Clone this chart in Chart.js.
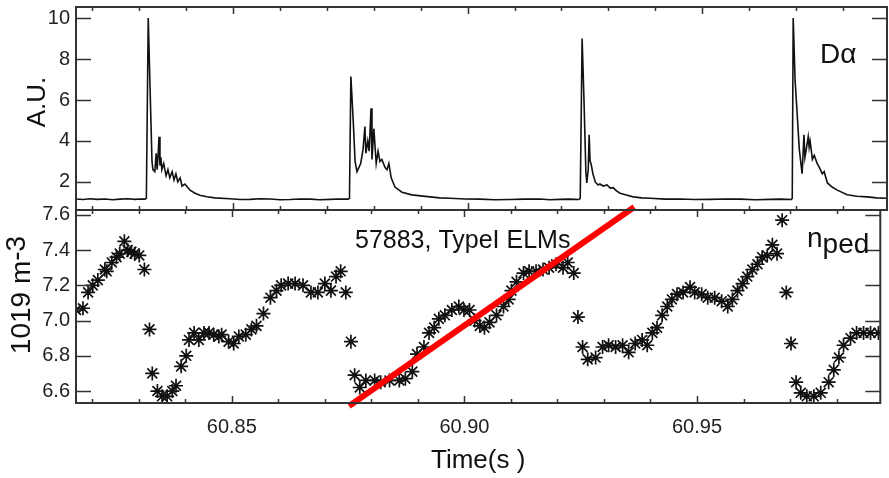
<!DOCTYPE html>
<html>
<head>
<meta charset="utf-8">
<script src="https://cdn.jsdelivr.net/npm/chart.js@4.4.0/dist/chart.umd.min.js"></script>
<style>
  html, body { margin: 0; padding: 0; background: #fff; }
  #wrap { position: relative; width: 889px; height: 478px; overflow: hidden; }
  #topCanvas { position: absolute; left: 0; top: 0; }
  #botCanvas { position: absolute; left: 0; top: 200px; }
</style>
</head>
<body>
<div id="wrap">
  <canvas id="topCanvas" width="889" height="212"></canvas>
  <canvas id="botCanvas" width="889" height="278"></canvas>
</div>
<script>
// time axis (s)
var xMin = 60.8165, xMax = 60.9894;
var xTicks = [60.85, 60.90, 60.95];
var xMinorTicks = [60.82, 60.83, 60.84, 60.85, 60.86, 60.87, 60.88, 60.89, 60.90,
                   60.91, 60.92, 60.93, 60.94, 60.95, 60.96, 60.97, 60.98];

// D-alpha signal (A.U.)
var daTicks = [2, 4, 6, 8, 10];
var daTime = [
  60.8165, 60.8180, 60.8195, 60.8210, 60.8227, 60.8243, 60.8259, 60.8275, 60.8291, 60.8302, 60.8312,
  60.8315, 60.8319, 60.8323, 60.8327, 60.8329, 60.8333, 60.8336, 60.8338, 60.8340, 60.8342, 60.8344,
  60.8346, 60.8348, 60.8352, 60.8357, 60.8361, 60.8365, 60.8370, 60.8374, 60.8378, 60.8382, 60.8387,
  60.8391, 60.8397, 60.8408, 60.8419, 60.8429, 60.8444, 60.8461, 60.8493, 60.8515, 60.8536, 60.8558,
  60.8579, 60.8600, 60.8621, 60.8643, 60.8664, 60.8685, 60.8707, 60.8726, 60.8745,
  60.8748, 60.8751, 60.8756, 60.8760, 60.8764, 60.8768, 60.8772, 60.8777, 60.8781, 60.8783, 60.8787,
  60.8790, 60.8794, 60.8796, 60.8800, 60.8805, 60.8809, 60.8813, 60.8817, 60.8824, 60.8828, 60.8832,
  60.8837, 60.8845, 60.8860, 60.8881, 60.8900, 60.8920, 60.8940, 60.8962, 60.8994, 60.9026, 60.9058,
  60.9090, 60.9122, 60.9154, 60.9175, 60.9197, 60.9217, 60.9237,
  60.9240, 60.9244, 60.9248, 60.9252, 60.9254, 60.9257, 60.9259, 60.9261, 60.9263, 60.9267, 60.9272,
  60.9278, 60.9282, 60.9289, 60.9297, 60.9304, 60.9310, 60.9318, 60.9325, 60.9340, 60.9353, 60.9371,
  60.9389, 60.9421, 60.9453, 60.9485, 60.9517, 60.9549, 60.9581, 60.9613, 60.9645, 60.9668, 60.9690,
  60.9692, 60.9694, 60.9698, 60.9702, 60.9707, 60.9709, 60.9713, 60.9717, 60.9719, 60.9722, 60.9726,
  60.9728, 60.9730, 60.9735, 60.9739, 60.9745, 60.9750, 60.9756, 60.9760, 60.9767, 60.9777, 60.9788,
  60.9809, 60.9830, 60.9852, 60.9872, 60.9892
];
var daSignal = [
  1.17, 1.14, 1.18, 1.15, 1.17, 1.13, 1.16, 1.18, 1.15, 1.17, 1.16,
  1.2, 10.0, 6.5, 3.0, 2.6, 2.5, 3.4, 2.6, 3.3, 4.2, 2.8,
  3.2, 2.6, 2.9, 2.3, 2.6, 2.2, 2.5, 2.1, 2.4, 2.0, 2.2,
  1.8, 1.9, 1.6, 1.45, 1.35, 1.28, 1.22, 1.18, 1.14, 1.15, 1.18,
  1.17, 1.13, 1.14, 1.17, 1.16, 1.13, 1.15, 1.17, 1.16,
  1.2, 7.15, 5.0, 3.0, 2.5, 2.7, 2.9, 3.6, 4.7, 3.4, 4.0,
  3.5, 5.6, 3.1, 4.6, 2.9, 3.5, 3.0, 3.1, 2.7, 2.6, 2.9,
  2.2, 1.75, 1.5, 1.37, 1.32, 1.27, 1.22, 1.2, 1.17, 1.16, 1.13,
  1.14, 1.16, 1.17, 1.13, 1.15, 1.16, 1.14,
  1.2, 9.0, 6.0, 2.5, 1.95, 2.6, 4.3, 3.0, 2.9, 2.4, 2.0,
  1.85, 1.9, 1.8, 1.85, 1.7, 1.72, 1.55, 1.45, 1.35, 1.27, 1.22,
  1.2, 1.16, 1.17, 1.14, 1.15, 1.17, 1.16, 1.13, 1.15, 1.16, 1.14,
  1.2, 10.0, 7.0, 5.5, 3.6, 3.2, 2.4, 4.3, 3.2, 3.6, 4.2,
  3.7, 4.0, 3.1, 3.3, 2.9, 2.7, 2.4, 2.5, 1.95, 1.75, 1.6,
  1.37, 1.3, 1.27, 1.22, 1.2
];

// pedestal density (10^19 m^-3)
var npedTicks = [6.6, 6.8, 7.0, 7.2, 7.4, 7.6];
var npedTime = [
  60.8165, 60.8180, 60.8191, 60.8201, 60.8212, 60.8227, 60.8231, 60.8242, 60.8252, 60.8259,
  60.8269, 60.8276, 60.8284, 60.8291, 60.8301, 60.8312, 60.8323, 60.8329, 60.8340, 60.8350,
  60.8361, 60.8372, 60.8380, 60.8391, 60.8402, 60.8408, 60.8419, 60.8429, 60.8440, 60.8451,
  60.8461, 60.8472, 60.8478, 60.8493, 60.8504, 60.8515, 60.8530, 60.8542, 60.8553, 60.8568,
  60.8583, 60.8596, 60.8606, 60.8621, 60.8636, 60.8653, 60.8670, 60.8685, 60.8700, 60.8713,
  60.8724, 60.8734, 60.8745, 60.8756, 60.8764, 60.8775, 60.8788, 60.8807, 60.8820, 60.8839,
  60.8860, 60.8873, 60.8888, 60.8898, 60.8913, 60.8924, 60.8935, 60.8945, 60.8958, 60.8973,
  60.8988, 60.8999, 60.9011, 60.9022, 60.9033, 60.9043, 60.9054, 60.9069, 60.9084, 60.9095,
  60.9101, 60.9112, 60.9127, 60.9139, 60.9154, 60.9169, 60.9182, 60.9197, 60.9212, 60.9222,
  60.9235, 60.9244, 60.9254, 60.9265, 60.9282, 60.9297, 60.9310, 60.9325, 60.9340, 60.9353,
  60.9367, 60.9382, 60.9393, 60.9404, 60.9414, 60.9425, 60.9436, 60.9446, 60.9457, 60.9470,
  60.9485, 60.9495, 60.9510, 60.9523, 60.9538, 60.9553, 60.9566, 60.9576, 60.9587, 60.9598,
  60.9608, 60.9619, 60.9630, 60.9640, 60.9651, 60.9662, 60.9672, 60.9683, 60.9692, 60.9702,
  60.9713, 60.9723, 60.9736, 60.9751, 60.9766, 60.9783, 60.9794, 60.9805, 60.9815, 60.9830,
  60.9843, 60.9858, 60.9873, 60.9890
];
var npedValue = [
  7.06, 7.07, 7.16, 7.20, 7.23, 7.29, 7.28, 7.33, 7.36, 7.38,
  7.45, 7.40, 7.39, 7.38, 7.37, 7.29, 6.95, 6.70, 6.60, 6.57,
  6.57, 6.60, 6.63, 6.74, 6.80, 6.89, 6.93, 6.89, 6.93, 6.93,
  6.92, 6.91, 6.92, 6.88, 6.87, 6.91, 6.92, 6.95, 6.97, 7.04,
  7.13, 7.17, 7.20, 7.21, 7.21, 7.20, 7.16, 7.16, 7.21, 7.17,
  7.25, 7.28, 7.16, 6.88, 6.69, 6.62, 6.66, 6.66, 6.65, 6.66,
  6.66, 6.67, 6.71, 6.81, 6.85, 6.93, 6.96, 7.01, 7.03, 7.06,
  7.08, 7.06, 7.06, 7.00, 6.97, 6.96, 6.99, 7.03, 7.08, 7.12,
  7.17, 7.22, 7.27, 7.28, 7.28, 7.29, 7.30, 7.32, 7.30, 7.33,
  7.27, 7.02, 6.85, 6.78, 6.79, 6.85, 6.86, 6.85, 6.86, 6.82,
  6.87, 6.89, 6.86, 6.93, 6.96, 7.03, 7.08, 7.12, 7.15, 7.16,
  7.19, 7.16, 7.15, 7.13, 7.13, 7.11, 7.08, 7.12, 7.17, 7.21,
  7.25, 7.29, 7.32, 7.36, 7.37, 7.43, 7.38, 7.57, 7.16, 6.87,
  6.65, 6.59, 6.57, 6.57, 6.59, 6.65, 6.72, 6.79, 6.86, 6.90,
  6.93, 6.93, 6.93, 6.93
];

// red trend line drawn over the inter-ELM rise
var fitTime = [60.8752, 60.9365];
var fitValue = [6.515, 7.645];

var fontFamily = '"Liberation Sans", Arial, sans-serif';

function toPoints(xs, ys) {
    return xs.map(function (t, i) { return { x: t, y: ys[i] }; });
}

// fixed axis size, no extra padding for labels hanging over the edges
function fixWidth(s) { s.width = 76; s.paddingTop = 0; s.paddingBottom = 0; }
function fixHeight(s) { s.height = 75; s.paddingLeft = 0; s.paddingRight = 0; }

// box around the plot with inward tick marks (IDL style)
var framePlugin = {
    id: 'frame',
    afterDatasetsDraw: function (chart) {
        var ctx = chart.ctx, a = chart.chartArea;
        var x = chart.scales.x, y = chart.scales.y;
        ctx.save();
        ctx.strokeStyle = '#333';
        ctx.lineWidth = 1.5;
        ctx.beginPath();
        xMinorTicks.forEach(function (v) {
            var px = Math.round(x.getPixelForValue(v)) + 0.5;
            var major = xTicks.some(function (t) { return Math.abs(t - v) < 1e-6; });
            var len = major ? 7 : 4;
            ctx.moveTo(px, a.bottom); ctx.lineTo(px, a.bottom - len);
            ctx.moveTo(px, a.top); ctx.lineTo(px, a.top + len);
        });
        y.ticks.forEach(function (t) {
            var py = Math.round(y.getPixelForValue(t.value)) + 0.5;
            ctx.moveTo(a.left, py); ctx.lineTo(a.left + 15, py);
            ctx.moveTo(a.right, py); ctx.lineTo(a.right - 15, py);
        });
        ctx.stroke();
        ctx.lineWidth = 2;
        ctx.strokeRect(a.left, a.top, a.right - a.left, a.bottom - a.top);
        ctx.restore();
    }
};

// free text: axis titles and in-plot notes
var notesPlugin = {
    id: 'notes',
    afterDraw: function (chart, args, opts) {
        var ctx = chart.ctx;
        (opts.items || []).forEach(function (it) {
            ctx.save();
            ctx.fillStyle = '#111';
            ctx.font = it.size + 'px ' + fontFamily;
            ctx.textBaseline = it.baseline || 'alphabetic';
            ctx.textAlign = 'left';
            ctx.translate(it.x, it.y);
            if (it.rot) ctx.rotate(it.rot * Math.PI / 180);
            var total = 0;
            it.parts.forEach(function (p) { total += ctx.measureText(p[0]).width; });
            var cx = it.center ? -total / 2 : 0;
            it.parts.forEach(function (p) {
                ctx.fillText(p[0], cx, -p[1]);
                cx += ctx.measureText(p[0]).width;
            });
            ctx.restore();
        });
    }
};

var tickFont = { family: fontFamily, size: 20 };

var topChart = new Chart(document.getElementById('topCanvas').getContext('2d'), {
    type: 'line',
    data: {
        datasets: [{
            data: toPoints(daTime, daSignal),
            borderColor: '#111',
            borderWidth: 1.6,
            pointRadius: 0,
            tension: 0
        }]
    },
    options: {
        responsive: false,
        animation: false,
        layout: { padding: { top: 7, right: 2, bottom: 2, left: 0 } },
        plugins: {
            legend: { display: false },
            tooltip: { enabled: false },
            notes: {
                items: [
                    { x: 38, y: 102, rot: -90, size: 26, center: true, baseline: 'middle', parts: [['A.U.', 0]] },
                    { x: 820, y: 63, size: 28, parts: [['D\u03b1', 0]] }
                ]
            }
        },
        scales: {
            x: { type: 'linear', min: xMin, max: xMax, display: false },
            y: {
                min: 0.63, max: 10.54,
                afterFit: fixWidth,
                afterBuildTicks: function (s) { s.ticks = daTicks.map(function (v) { return { value: v }; }); },
                grid: { display: false, drawTicks: false },
                border: { display: false },
                ticks: { padding: 6, color: '#222', font: tickFont, callback: function (v) { return String(v); } }
            }
        }
    },
    plugins: [framePlugin, notesPlugin]
});

var botChart = new Chart(document.getElementById('botCanvas').getContext('2d'), {
    type: 'scatter',
    data: {
        datasets: [{
            data: toPoints(fitTime, fitValue),
            showLine: true,
            borderColor: '#ff0000',
            borderWidth: 6,
            pointRadius: 0,
            clip: false,
            order: 0
        }, {
            data: toPoints(npedTime, npedValue),
            showLine: false,
            pointStyle: 'star',
            pointRadius: 7,
            borderColor: '#111',
            borderWidth: 1.7,
            order: 1
        }]
    },
    options: {
        responsive: false,
        animation: false,
        layout: { padding: { top: 10, right: 2, bottom: 0, left: 0 } },
        plugins: {
            legend: { display: false },
            tooltip: { enabled: false },
            notes: {
                items: [
                    { x: 22, y: 95, rot: -90, size: 28, center: true, baseline: 'middle', parts: [['1019 m', 0], ['-3', 5]] },
                    { x: 355, y: 48, size: 25, parts: [['57883, TypeI ELMs', 0]] },
                    { x: 807, y: 47, size: 28, parts: [['n', 0], ['ped', -6]] }
                ]
            }
        },
        scales: {
            x: {
                type: 'linear', min: xMin, max: xMax,
                afterFit: fixHeight,
                afterBuildTicks: function (s) { s.ticks = xTicks.map(function (v) { return { value: v }; }); },
                grid: { display: false, drawTicks: false },
                border: { display: false },
                ticks: { padding: 12, autoSkip: false, maxRotation: 0, color: '#222', font: tickFont,
                         callback: function (v) { return v.toFixed(2); } },
                title: { display: true, text: 'Time(s )', color: '#111', font: { family: fontFamily, size: 26 },
                         padding: { top: 0, bottom: 2 } }
            },
            y: {
                min: 6.532, max: 7.628,
                afterFit: fixWidth,
                afterBuildTicks: function (s) { s.ticks = npedTicks.map(function (v) { return { value: v }; }); },
                grid: { display: false, drawTicks: false },
                border: { display: false },
                ticks: { padding: 6, color: '#222', font: tickFont, callback: function (v) { return v.toFixed(1); } }
            }
        }
    },
    plugins: [framePlugin, notesPlugin]
});
</script>
</body>
</html>
